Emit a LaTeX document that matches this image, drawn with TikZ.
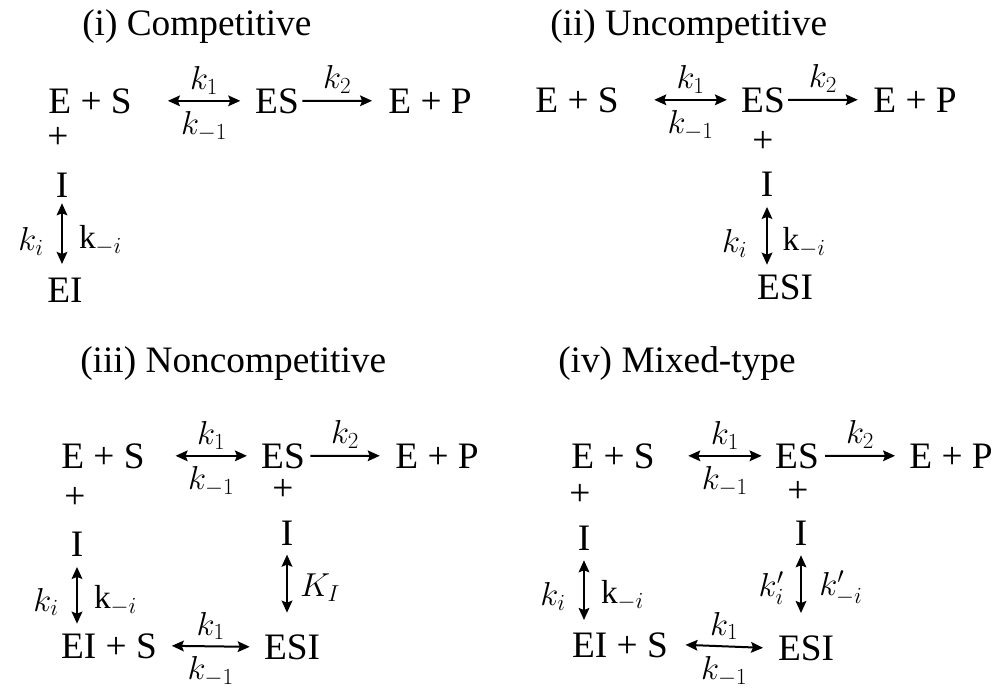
\documentclass[tikz,border=0pt]{standalone}
\usepackage{fontspec}
\setmainfont{Liberation Serif}
\usetikzlibrary{arrows.meta}
\newcommand{\rxnfont}{\fontsize{28}{34}\selectfont}
\newcommand{\lblfont}{\fontsize{25}{30}\selectfont}

\begin{document}
\begin{tikzpicture}[x=0.75pt,y=-0.75pt,
  every node/.style={inner sep=0pt,font=\rxnfont},
  sp/.style={anchor=base},
  ttl/.style={anchor=base west},
  lbl/.style={midway,font=\lblfont},
  eqm/.style={{Stealth[length=9pt,width=8pt,inset=1.5pt]}-{Stealth[length=9pt,width=8pt,inset=1.5pt]},line width=1.5pt},
  fwd/.style={-{Stealth[length=9pt,width=8pt,inset=1.5pt]},line width=1.5pt}]
\useasboundingbox (0,0) rectangle (997,689);

% (i) competitive
\node[ttl] (t1) at (82,35) {(i) Competitive};
\node[sp] (es1) at (90,113) {E + S};
\node[sp] (c1) at (277,113) {ES};
\node[sp] (ep1) at (430,113) {E + P};
\node (pl1) at (58,138) {+};
\node[sp] (i1) at (62,197) {I};
\node[sp] (ei1) at (65,302) {EI};

\draw[eqm] ([xshift=27pt]es1.east) -- ([xshift=-11pt]c1.west)
  node[lbl,above=4pt] {$k_1$} node[lbl,below=7pt] {$k_{-1}$};
\draw[fwd] ([xshift=2.5pt]c1.east) -- ([xshift=-12pt]ep1.west)
  node[lbl,above=5pt] {$k_2$};
\draw[eqm] ([yshift=-4.5pt]i1.south) -- ([yshift=10pt]i1.south |- ei1.north)
  node[lbl,left=13pt,yshift=-6pt] {$k_i$} node[lbl,right=12pt,yshift=-5pt] {$\mathrm{k}_{-i}$};

% (ii) uncompetitive
\node[ttl] (t2) at (550,35) {(ii) Uncompetitive};
\node[sp] (es2) at (577,112) {E + S};
\node[sp] (c2) at (763,112) {ES};
\node[sp] (ep2) at (915,112) {E + P};
\node (pl2) at (763,142) {+};
\node[sp] (i2) at (767,196) {I};
\node[sp] (esi2) at (785,299) {ESI};

\draw[eqm] ([xshift=26.5pt]es2.east) -- ([xshift=-10.5pt]c2.west)
  node[lbl,above=4pt] {$k_1$} node[lbl,below=7pt] {$k_{-1}$};
\draw[fwd] ([xshift=2.3pt]c2.east) -- ([xshift=-11.5pt]ep2.west)
  node[lbl,above=5pt] {$k_2$};
\draw[eqm] ([yshift=-8pt]i2.south) -- ([yshift=7pt]i2.south |- esi2.north)
  node[lbl,left=14pt,yshift=-6pt] {$k_i$} node[lbl,right=11pt,yshift=-5pt] {$\mathrm{k}_{-i}$};

% (iii) noncompetitive
\node[ttl] (t3) at (80,372) {(iii) Noncompetitive};
\node[sp] (es3) at (103,468) {E + S};
\node[sp] (c3) at (283,468) {ES};
\node[sp] (ep3) at (437,468) {E + P};
\node (pl3a) at (75,498) {+};
\node (pl3b) at (283,490) {+};
\node[sp] (i3a) at (77,556) {I};
\node[sp] (i3b) at (287,545) {I};
\node[sp] (eis3) at (109,658) {EI + S};
\node[sp] (esi3) at (292,659) {ESI};

\draw[eqm] ([xshift=23pt]es3.east) -- ([xshift=-10.5pt]c3.west)
  node[lbl,above=4pt] {$k_1$} node[lbl,below=7pt] {$k_{-1}$};
\draw[fwd] ([xshift=4pt]c3.east) -- ([xshift=-11.5pt]ep3.west)
  node[lbl,above=5pt] {$k_2$};
\draw[eqm] ([yshift=-8pt]i3a.south) -- ([yshift=7pt]i3a.south |- eis3.north)
  node[lbl,left=13pt,yshift=-5pt] {$k_i$} node[lbl,right=12pt,yshift=-4pt] {$\mathrm{k}_{-i}$};
\draw[eqm] ([yshift=-7pt]i3b.south) -- ([yshift=16pt]i3b.south |- esi3.north)
  node[lbl,right=9pt,yshift=-3pt] {$K_I$};
\draw[eqm] ([xshift=11pt]eis3.east) -- ([xshift=-10.5pt]esi3.west)
  node[lbl,above=4pt] {$k_1$} node[lbl,below=7pt] {$k_{-1}$};

% (iv) mixed-type
\node[ttl] (t4) at (558,372) {(iv) Mixed-type};
\node[sp] (es4) at (613,468) {E + S};
\node[sp] (c4) at (797,468) {ES};
\node[sp] (ep4) at (951,468) {E + P};
\node (pl4a) at (580,495) {+};
\node (pl4b) at (798,492) {+};
\node[sp] (i4a) at (584,550) {I};
\node[sp] (i4b) at (801,545) {I};
\node[sp] (eis4) at (620,657) {EI + S};
\node[sp] (esi4) at (806,660) {ESI};

\draw[eqm] ([xshift=25pt]es4.east) -- ([xshift=-10pt]c4.west)
  node[lbl,above=4pt] {$k_1$} node[lbl,below=7pt] {$k_{-1}$};
\draw[fwd] ([xshift=4.5pt]c4.east) -- ([xshift=-10.5pt]ep4.west)
  node[lbl,above=5pt] {$k_2$};
\draw[eqm] ([yshift=-7.5pt]i4a.south) -- ([yshift=9pt]i4a.south |- eis4.north)
  node[lbl,left=13pt,yshift=-5pt] {$k_i$} node[lbl,right=12pt,yshift=-4pt] {$\mathrm{k}_{-i}$};
\draw[eqm] ([yshift=-7.5pt]i4b.south) -- ([yshift=16.5pt]i4b.south |- esi4.north)
  node[lbl,left=12pt,yshift=-3pt] {$k'_i$} node[lbl,right=13pt,yshift=-3pt] {$k'_{-i}$};
\draw[eqm] ([xshift=13pt]eis4.east) -- ([xshift=-11pt]esi4.west)
  node[lbl,above=4pt] {$k_1$} node[lbl,below=7pt] {$k_{-1}$};

\end{tikzpicture}
\end{document}
